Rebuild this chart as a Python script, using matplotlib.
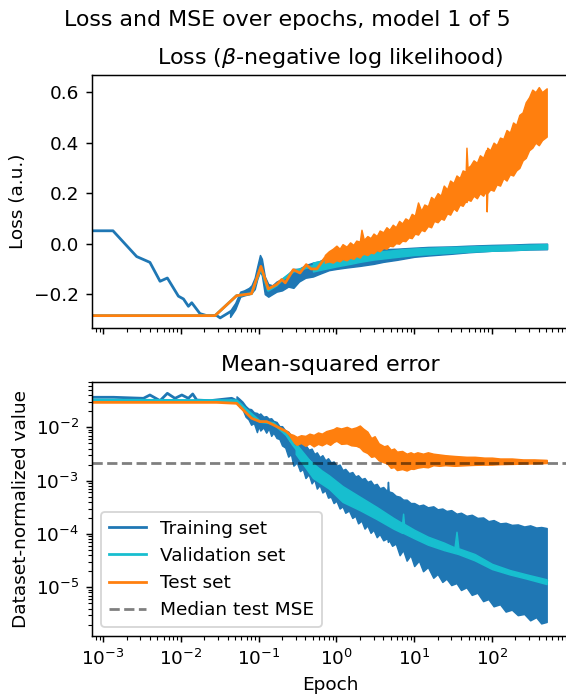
import matplotlib
matplotlib.use("Agg")
import matplotlib.pyplot as plt

# ---------------- Loss panel (linear y) ----------------
# Training set: sparse early part
loss_train_ep = [7.2e-4, 1.34e-3, 2.7e-3, 4.0e-3, 5.4e-3, 6.7e-3, 9.3e-3, 0.0108, 0.0125,
                 0.0138, 0.0176, 0.0215, 0.029, 0.032, 0.043]
loss_train = [0.051, 0.051, -0.051, -0.074, -0.149, -0.136, -0.208, -0.219, -0.248,
              -0.234, -0.277, -0.285, -0.285, -0.294, -0.27]
# Training set: noisy band (low / high envelope)
loss_train_band_ep = [0.043, 0.05, 0.058, 0.065, 0.075, 0.081, 0.089, 0.096, 0.104, 0.11,
                      0.12, 0.133, 0.15, 0.17, 0.2, 0.24, 0.28, 0.33, 0.4, 0.5, 0.6, 0.8,
                      1.0, 1.3, 2.0, 3.0, 4.0, 6.0, 10, 15, 30, 50, 100, 200, 300, 510]
loss_train_lo = [-0.29, -0.26, -0.21, -0.205, -0.2, -0.195, -0.18, -0.14, -0.11, -0.125,
                 -0.2, -0.21, -0.2, -0.19, -0.185, -0.17, -0.175, -0.15, -0.135, -0.13, -0.12,
                 -0.105, -0.1, -0.095, -0.088, -0.08, -0.072, -0.064, -0.052, -0.047, -0.04,
                 -0.034, -0.028, -0.025, -0.023, -0.022]
loss_train_hi = [-0.265, -0.235, -0.19, -0.185, -0.175, -0.165, -0.135, -0.09, -0.045, -0.06,
                 -0.13, -0.16, -0.165, -0.15, -0.14, -0.12, -0.1, -0.1, -0.085, -0.075, -0.07,
                 -0.05, -0.05, -0.045, -0.03, -0.03, -0.022, -0.02, -0.016, -0.013, -0.011,
                 -0.008, -0.005, -0.003, -0.001, 0.0]

# Validation set
loss_val_ep = [7.2e-4, 0.0275, 0.052, 0.081, 0.107, 0.133, 0.17, 0.198, 0.279, 0.41, 0.5]
loss_val = [-0.285, -0.285, -0.206, -0.198, -0.095, -0.185, -0.165, -0.145, -0.11, -0.095, -0.09]
loss_val_band_ep = [0.5, 0.7, 1, 1.5, 2, 3, 5, 7, 10, 20, 30, 50, 100, 200, 300, 510]
loss_val_lo = [-0.11, -0.1, -0.09, -0.08, -0.072, -0.063, -0.055, -0.05, -0.045, -0.039,
               -0.036, -0.032, -0.028, -0.025, -0.022, -0.02]
loss_val_hi = [-0.075, -0.065, -0.055, -0.045, -0.038, -0.032, -0.027, -0.022, -0.019, -0.015,
               -0.013, -0.011, -0.008, -0.006, -0.004, -0.002]

# Test set
loss_test_ep = [7.2e-4, 0.0275, 0.052, 0.081, 0.107, 0.133, 0.17, 0.198, 0.22, 0.279, 0.34,
                0.41, 0.47, 0.56, 0.71]
loss_test = [-0.285, -0.285, -0.206, -0.198, -0.09, -0.179, -0.162, -0.142, -0.155, -0.103,
             -0.116, -0.083, -0.1, -0.1, -0.057]
loss_test_band_ep = [0.71, 0.8, 0.9, 1.0, 1.1, 1.2, 1.35, 1.5, 1.65, 1.8, 2.0, 2.1, 2.25, 2.5,
                     2.75, 3.0, 3.3, 3.6, 4.0, 4.4, 4.8, 5.3, 5.8, 6.4, 7.0, 7.7, 8.5, 9.3,
                     10.2, 11.2, 12.3, 13.5, 15, 16.5, 18, 20, 22, 24, 26.5, 29, 32, 35, 38.5,
                     42, 46, 47, 48.5, 53, 58, 64, 70, 77, 84, 85.5, 87, 95, 105, 115, 127,
                     140, 154, 170, 187, 205, 225, 248, 272, 300, 330, 363, 400, 440, 505]
loss_test_hi = [-0.045, -0.03, -0.02, -0.008, -0.02, -0.002, -0.012, 0.005, -0.005, 0.012,
                0.008, 0.055, 0.015, 0.03, 0.022, 0.04, 0.03, 0.052, 0.045, 0.065, 0.055,
                0.075, 0.065, 0.09, 0.08, 0.1, 0.092, 0.118, 0.11, 0.163, 0.13, 0.155, 0.148,
                0.185, 0.175, 0.2, 0.19, 0.23, 0.215, 0.25, 0.24, 0.27, 0.26, 0.29, 0.285,
                0.38, 0.3, 0.31, 0.33, 0.32, 0.35, 0.34, 0.37, 0.36, 0.38, 0.37, 0.4, 0.39,
                0.42, 0.415, 0.45, 0.44, 0.48, 0.47, 0.51, 0.52, 0.56, 0.58, 0.61, 0.6, 0.62,
                0.6, 0.615]
loss_test_lo = [-0.075, -0.07, -0.075, -0.065, -0.07, -0.06, -0.066, -0.055, -0.06, -0.048,
                -0.055, -0.045, -0.04, -0.045, -0.035, -0.038, -0.025, -0.03, -0.017, -0.02,
                -0.008, -0.01, 0.002, 0.0, 0.012, 0.01, 0.025, 0.022, 0.04, 0.036, 0.055,
                0.05, 0.07, 0.065, 0.09, 0.085, 0.1, 0.095, 0.12, 0.115, 0.14, 0.13, 0.155,
                0.15, 0.17, 0.165, 0.175, 0.17, 0.19, 0.18, 0.2, 0.19, 0.21, 0.128, 0.2,
                0.215, 0.21, 0.235, 0.23, 0.26, 0.25, 0.275, 0.27, 0.29, 0.3, 0.33, 0.34,
                0.37, 0.38, 0.4, 0.39, 0.41, 0.424]

# ---------------- MSE panel (log y) ----------------
mse_train_ep = [7.2e-4, 1.36e-3, 3.3e-3, 4.0e-3, 5.4e-3, 6.7e-3, 8.4e-3, 0.0103, 0.0125,
                0.0142, 0.016, 0.0237, 0.045, 0.052]
mse_train = [0.0366, 0.0366, 0.035, 0.0404, 0.0316, 0.0434, 0.035, 0.0404, 0.035, 0.0422,
             0.0325, 0.0316, 0.035, 0.0316]
mse_train_band_ep = [0.052, 0.057, 0.062, 0.068, 0.074, 0.08, 0.087, 0.095, 0.1, 0.105, 0.115,
                     0.125, 0.135, 0.145, 0.155, 0.17, 0.185, 0.2, 0.22, 0.24, 0.26, 0.28,
                     0.31, 0.34, 0.37, 0.4, 0.44, 0.48, 0.52, 0.56, 0.61, 0.66, 0.72, 0.78,
                     0.85, 0.92, 1.0, 1.1, 1.2, 1.3, 1.45, 1.6, 1.75, 1.9, 2.1, 2.3, 2.5,
                     2.75, 3.0, 3.3, 3.6, 4.0, 4.5, 4.6, 4.7, 5.2, 5.8, 6.5, 7.2, 8.0, 9.0,
                     10, 11.5, 13, 15, 17.6, 20, 23, 26, 30, 35, 40, 47, 55, 65, 77, 90, 105,
                     127, 150, 180, 215, 260, 310, 370, 430, 505]
mse_train_lo = [0.0288, 0.024, 0.0219, 0.0158, 0.0141, 0.0112, 0.012, 8.13e-3, 0.0105,
                8.71e-3, 0.01, 7.94e-3, 9.55e-3, 6.92e-3, 7.94e-3, 6.31e-3, 6.03e-3, 4.57e-3,
                4.17e-3, 2.82e-3, 3.16e-3, 1.91e-3, 2.19e-3, 1.51e-3, 1.66e-3, 1.12e-3,
                1.32e-3, 8.9e-4, 1.05e-3, 7.1e-4, 8.3e-4, 6.0e-4, 6.6e-4, 4.8e-4, 5.0e-4,
                3.8e-4, 4.2e-4, 3.0e-4, 3.3e-4, 2.5e-4, 2.75e-4, 2.0e-4, 2.19e-4, 1.58e-4,
                1.78e-4, 1.26e-4, 1.45e-4, 1.05e-4, 1.2e-4, 8.7e-5, 1.0e-4, 7.6e-5, 8.3e-5,
                7.1e-5, 7.9e-5, 6.0e-5, 6.6e-5, 4.0e-5, 5.0e-5, 3.16e-5, 4.0e-5, 2.5e-5,
                3.16e-5, 2.0e-5, 2.4e-5, 1.51e-5, 1.78e-5, 1.26e-5, 1.45e-5, 1.1e-5, 1.2e-5,
                8.9e-6, 1.0e-5, 7.2e-6, 7.9e-6, 5.5e-6, 6.0e-6, 4.4e-6, 4.8e-6, 3.5e-6,
                3.8e-6, 3.0e-6, 3.16e-6, 2.4e-6, 2.75e-6, 2.1e-6, 2.24e-6]
mse_train_hi = [0.038, 0.0339, 0.0302, 0.0251, 0.0224, 0.0219, 0.0191, 0.0186, 0.0174,
                0.0182, 0.0158, 0.0162, 0.0145, 0.0148, 0.0132, 0.0126, 0.0105, 0.0105,
                8.7e-3, 8.3e-3, 7.1e-3, 6.9e-3, 5.75e-3, 5.6e-3, 4.57e-3, 4.68e-3, 3.8e-3,
                3.98e-3, 3.16e-3, 3.39e-3, 2.75e-3, 3.0e-3, 2.4e-3, 2.63e-3, 2.19e-3,
                2.29e-3, 1.91e-3, 2.0e-3, 1.58e-3, 1.66e-3, 1.38e-3, 1.45e-3, 1.2e-3,
                1.26e-3, 1.07e-3, 1.12e-3, 9.5e-4, 1.0e-3, 8.3e-4, 8.7e-4, 7.2e-4, 7.6e-4,
                6.3e-4, 9.5e-4, 6.3e-4, 6.0e-4, 5.2e-4, 5.0e-4, 4.4e-4, 4.4e-4, 3.8e-4,
                3.8e-4, 3.4e-4, 3.55e-4, 3.16e-4, 3.3e-4, 2.9e-4, 3.0e-4, 2.7e-4, 2.8e-4,
                2.4e-4, 2.5e-4, 2.19e-4, 2.29e-4, 2.0e-4, 2.04e-4, 1.74e-4, 1.82e-4, 1.58e-4,
                1.62e-4, 1.48e-4, 1.51e-4, 1.38e-4, 1.45e-4, 1.32e-4, 1.35e-4, 1.29e-4]

mse_val_ep = [7.2e-4, 0.0522, 0.070, 0.104, 0.155, 0.229, 0.279, 0.34, 0.457, 0.615, 0.75,
              1.01, 1.23, 2.01, 3.29, 5.38, 10, 23.7, 38.7, 101, 279, 504]
mse_val = [0.0325, 0.0316, 0.0211, 0.0128, 0.0119, 0.00718, 0.00467, 0.00325, 0.00227,
           0.00158, 0.00103, 7.7e-4, 5.4e-4, 3.76e-4, 2.44e-4, 1.58e-4, 1.03e-4, 5.8e-5,
           4.34e-5, 2.44e-5, 1.58e-5, 1.28e-5]
mse_val_band_ep = [0.3, 0.5, 0.8, 1.2, 2, 3.3, 5.4, 7.0, 7.2, 7.4, 10, 15, 24, 33, 35, 37, 60,
                   100, 170, 280, 505]
mse_val_lo = [0.00316, 0.00112, 7.1e-4, 4.0e-4, 2.8e-4, 1.9e-4, 1.26e-4, 1.05e-4, 1.05e-4,
              1.03e-4, 8.3e-5, 6.3e-5, 5.0e-5, 4.4e-5, 4.3e-5, 4.2e-5, 3.2e-5, 2.2e-5,
              1.74e-5, 1.45e-5, 1.15e-5]
mse_val_hi = [0.005, 0.002, 1.26e-3, 7.9e-4, 5.0e-4, 3.2e-4, 2.0e-4, 1.6e-4, 2.4e-4, 1.55e-4,
              1.2e-4, 8.9e-5, 6.9e-5, 5.6e-5, 1.1e-4, 5.4e-5, 4.2e-5, 2.75e-5, 2.1e-5,
              1.74e-5, 1.41e-5]

mse_test_ep = [7.2e-4, 0.0288, 0.0522, 0.0635, 0.0813, 0.104, 0.127, 0.155, 0.229, 0.279,
               0.34, 0.414, 0.505, 0.679, 0.912, 1.11, 1.36, 1.65, 2.01, 2.45, 2.98, 3.63,
               4.43, 5.38, 6.56, 10, 19.4, 38.7, 101, 504]
mse_test = [0.0294, 0.0294, 0.0282, 0.0211, 0.0148, 0.0128, 0.0128, 0.0111, 0.0083, 0.00622,
            0.00578, 0.00538, 0.00622, 0.00538, 0.00622, 0.00718, 0.0083, 0.00668, 0.00771,
            0.00578, 0.00434, 0.0035, 0.00282, 0.00227, 0.00197, 0.00211, 0.00244, 0.00244,
            0.00234, 0.00227]
mse_test_band_ep = [0.25, 0.28, 0.31, 0.35, 0.4, 0.45, 0.51, 0.58, 0.65, 0.74, 0.83, 0.92, 1.0,
                    1.15, 1.36, 1.55, 1.8, 2.0, 2.2, 2.5, 2.8, 3.1, 3.5, 4.1, 4.5, 5.0, 5.5,
                    6.0, 7.0, 8.0, 9.0, 9.8, 11, 13, 15, 17.6, 21, 25, 33, 47, 60, 80, 100,
                    127, 180, 250, 350, 505]
mse_test_lo = [0.0056, 0.0052, 0.0047, 0.0051, 0.0045, 0.005, 0.0044, 0.0049, 0.0046, 0.0051,
               0.0047, 0.0053, 0.0056, 0.0049, 0.005, 0.0046, 0.0045, 0.0042, 0.0036, 0.0033,
               0.0028, 0.0029, 0.0024, 0.0022, 0.0021, 0.00174, 0.0018, 0.00158, 0.00165,
               0.00155, 0.00168, 0.00166, 0.00175, 0.00182, 0.00178, 0.00195, 0.0019,
               0.00195, 0.0019, 0.00195, 0.00198, 0.002, 0.002, 0.00204, 0.00206, 0.00209,
               0.0021, 0.00214]
mse_test_hi = [0.0076, 0.0072, 0.0066, 0.0071, 0.0069, 0.0076, 0.0072, 0.008, 0.0076, 0.0085,
               0.0089, 0.0093, 0.01, 0.0095, 0.0102, 0.0094, 0.01, 0.0108, 0.0095, 0.0083,
               0.0063, 0.0068, 0.005, 0.0044, 0.0046, 0.0038, 0.004, 0.0035, 0.0036, 0.0032,
               0.0034, 0.0032, 0.0034, 0.0032, 0.0034, 0.0032, 0.0031, 0.003, 0.0029, 0.0028,
               0.0028, 0.0027, 0.0027, 0.0026, 0.0026, 0.0025, 0.0025, 0.00245]

median_test_mse = 2.12e-3

C_TRAIN = "#1f77b4"
C_VAL = "#17becf"
C_TEST = "#ff7f0e"

DPI = 133
fig = plt.figure(figsize=(566 / DPI, 694 / DPI), dpi=DPI)
ax1 = fig.add_axes([92 / 566, 1 - 328 / 694, 476 / 566, 253 / 694])
ax2 = fig.add_axes([92 / 566, 1 - 636 / 694, 476 / 566, 254 / 694], sharex=ax1)


def draw(ax, ep, vals, bep, lo, hi, color, label):
    line, = ax.plot(ep, vals, color=color, lw=1.5, label=label)
    ax.fill_between(bep, lo, hi, color=color, lw=0.8, edgecolor=color)
    return line


draw(ax1, loss_train_ep, loss_train, loss_train_band_ep, loss_train_lo, loss_train_hi, C_TRAIN, None)
draw(ax1, loss_val_ep, loss_val, loss_val_band_ep, loss_val_lo, loss_val_hi, C_VAL, None)
draw(ax1, loss_test_ep, loss_test, loss_test_band_ep, loss_test_lo, loss_test_hi, C_TEST, None)
ax1.set_xscale("log")
ax1.set_xlim(7.2e-4, 950)
ax1.set_ylim(-0.334, 0.668)
ax1.set_ylabel("Loss (a.u.)")
ax1.set_title(r"Loss ($\beta$-negative log likelihood)")
ax1.tick_params(labelbottom=False)

h1 = draw(ax2, mse_train_ep, mse_train, mse_train_band_ep, mse_train_lo, mse_train_hi, C_TRAIN, "Training set")
h2 = draw(ax2, mse_val_ep, mse_val, mse_val_band_ep, mse_val_lo, mse_val_hi, C_VAL, "Validation set")
h3 = draw(ax2, mse_test_ep, mse_test, mse_test_band_ep, mse_test_lo, mse_test_hi, C_TEST, "Test set")
h4 = ax2.axhline(median_test_mse, color="k", alpha=0.5, ls="--", lw=1.5, label="Median test MSE")
ax2.set_yscale("log")
ax2.set_ylim(1.22e-6, 0.0708)
ax2.set_xlabel("Epoch")
ax2.set_ylabel("Dataset-normalized value", labelpad=3)
ax2.set_title("Mean-squared error")
ax2.legend(handles=[h1, h2, h3, h4], loc="lower left")

fig.suptitle("Loss and MSE over epochs, model 1 of 5", x=0.5085, y=0.985)
fig.savefig("out.png", dpi=DPI)
